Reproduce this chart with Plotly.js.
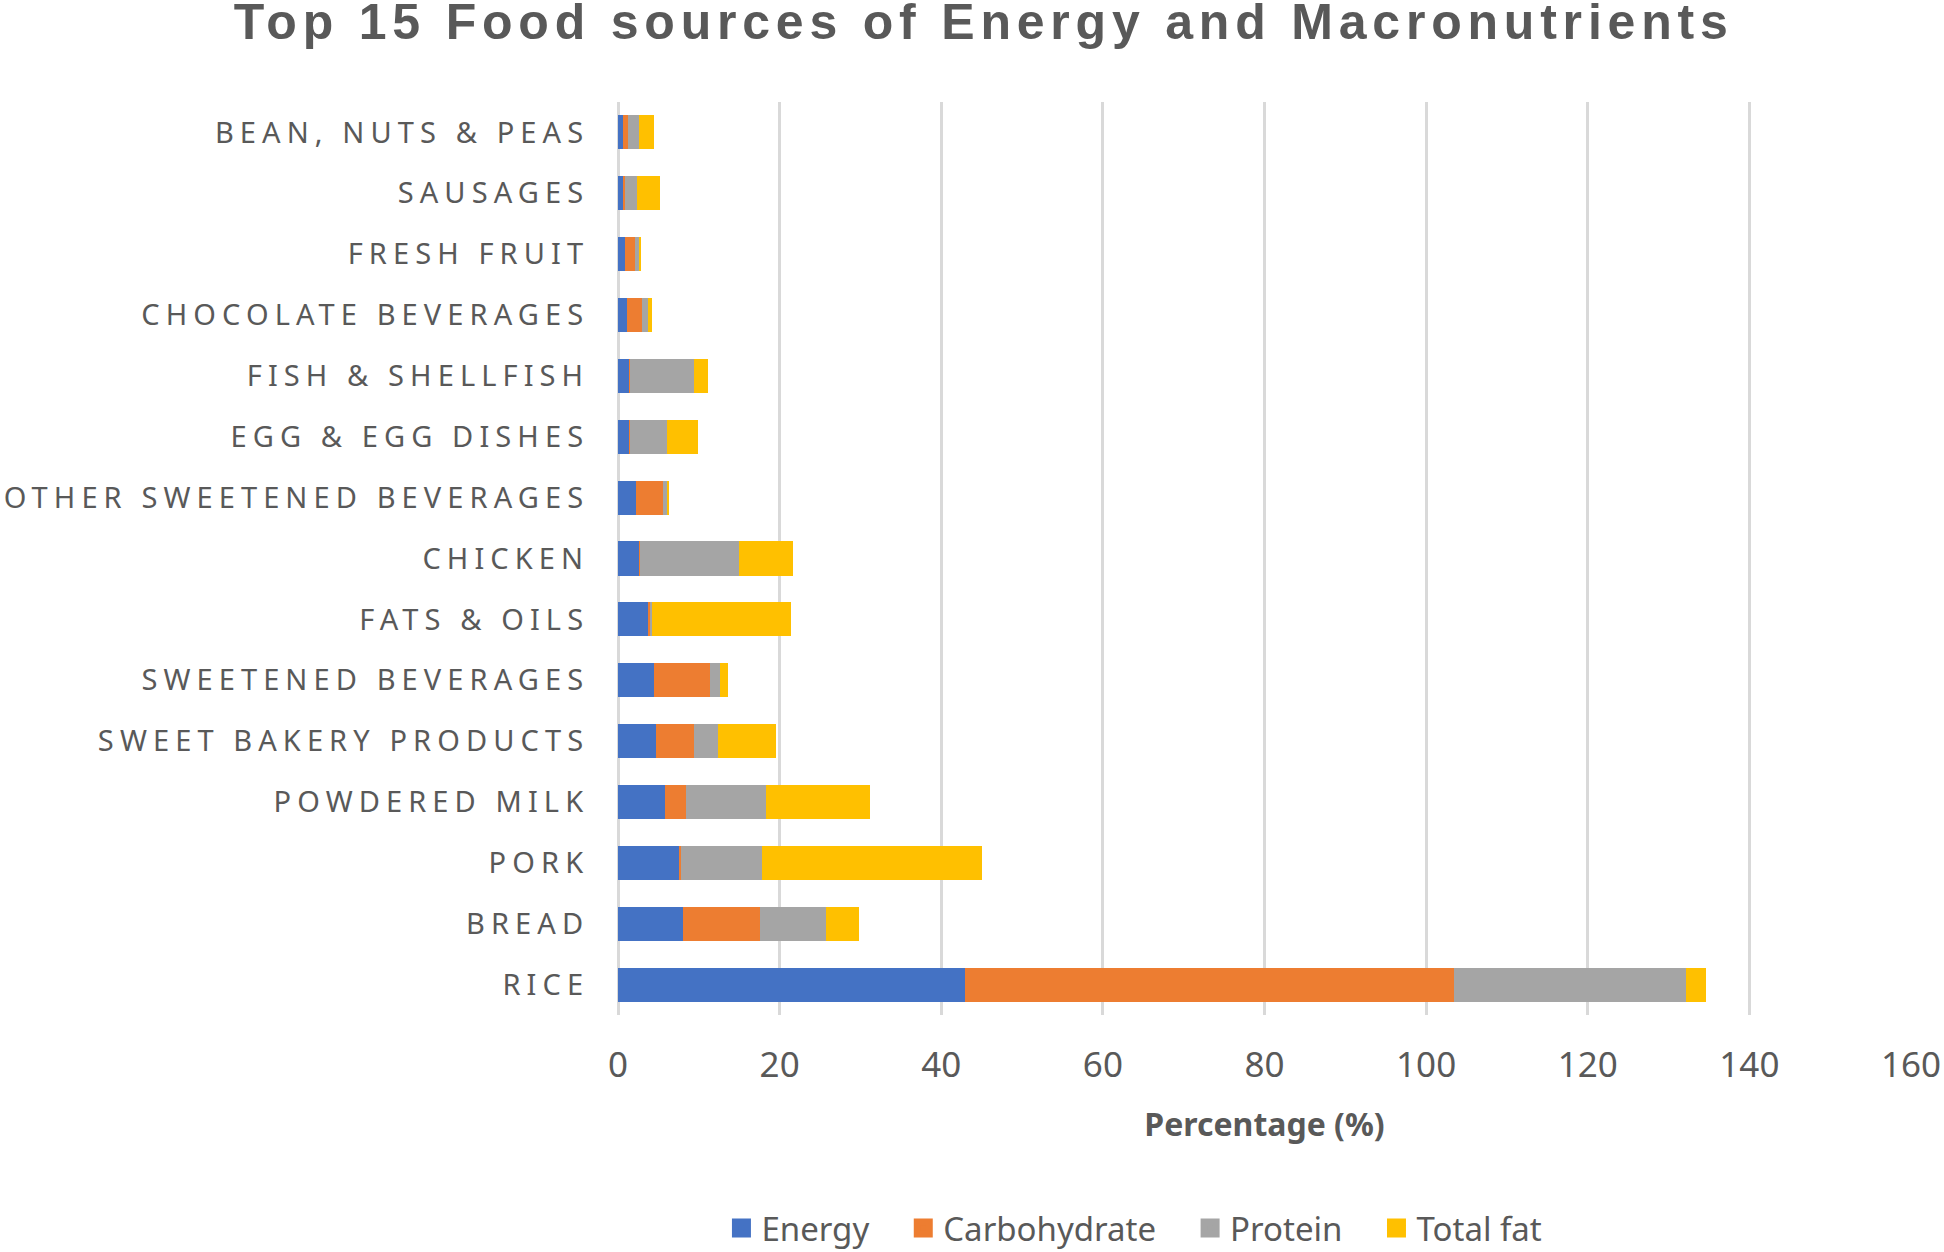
<!DOCTYPE html>
<html>
<head>
<meta charset="utf-8">
<script src="https://cdn.plot.ly/plotly-3.0.1.min.js"></script>
<style>
  html, body { margin: 0; padding: 0; background: #fff; }
  #chart { width: 1944px; height: 1252px; }
  .ytick text { letter-spacing: 6.1px; }
  .gtitle { letter-spacing: 5.8px; }
  .legend g.traces:nth-of-type(1) .legendpoints path { stroke: #4472C4 !important; stroke-width: 7px !important; stroke-linejoin: miter; }
  .legend g.traces:nth-of-type(2) .legendpoints path { stroke: #ED7D31 !important; stroke-width: 7px !important; stroke-linejoin: miter; }
  .legend g.traces:nth-of-type(3) .legendpoints path { stroke: #A5A5A5 !important; stroke-width: 7px !important; stroke-linejoin: miter; }
  .legend g.traces:nth-of-type(4) .legendpoints path { stroke: #FFC000 !important; stroke-width: 7px !important; stroke-linejoin: miter; }
</style>
</head>
<body>
<div id="chart"></div>
<script>
// Categories from bottom (RICE) to top
const categories = [
  "RICE", "BREAD", "PORK", "POWDERED MILK", "SWEET BAKERY PRODUCTS",
  "SWEETENED BEVERAGES", "FATS & OILS", "CHICKEN", "OTHER SWEETENED BEVERAGES",
  "EGG & EGG DISHES", "FISH & SHELLFISH", "CHOCOLATE BEVERAGES",
  "FRESH FRUIT", "SAUSAGES", "BEAN, NUTS & PEAS"
];
const energy       = [43.0, 8.05, 7.6, 5.8, 4.7, 4.4, 3.7, 2.65, 2.2, 1.4, 1.4, 1.15, 0.85, 0.6, 0.6];
const carbohydrate = [60.4, 9.5, 0.25, 2.6, 4.65, 6.95, 0.25, 0.05, 3.35, 0.05, 0.05, 1.8, 1.3, 0.25, 0.6];
const protein      = [28.7, 8.2, 9.95, 9.95, 3.05, 1.3, 0.25, 12.3, 0.5, 4.6, 7.9, 0.75, 0.5, 1.55, 1.45];
const totalFat     = [2.5, 4.05, 27.2, 12.8, 7.15, 1.0, 17.2, 6.7, 0.2, 3.8, 1.8, 0.5, 0.25, 2.8, 1.8];
const seriesNames  = ["Energy", "Carbohydrate", "Protein", "Total fat"];
const seriesColors = ["#4472C4", "#ED7D31", "#A5A5A5", "#FFC000"];
const xTicks = [0, 20, 40, 60, 80, 100, 120, 140, 160];

const seriesValues = [energy, carbohydrate, protein, totalFat];
const pad = "\u00a0\u00a0\u00a0\u200a";
const traces = seriesValues.map((vals, i) => ({
  type: "bar",
  orientation: "h",
  name: seriesNames[i] + pad,
  y: categories,
  x: vals,
  marker: { color: seriesColors[i], line: { width: 0 } },
  hoverinfo: "skip"
}));

const grey = "#595959";
const layout = {
  width: 1944,
  height: 1252,
  paper_bgcolor: "#ffffff",
  plot_bgcolor: "#ffffff",
  barmode: "stack",
  bargap: 0.44,
  margin: { l: 618, r: 33, t: 102, b: 237, pad: 0, autoexpand: false },
  title: {
    text: "<b>Top 15 Food sources of Energy and Macronutrients</b>",
    font: { family: "Liberation Sans, Arial, sans-serif", size: 50, color: grey },
    x: 0.506, xanchor: "center",
    y: 0.9830, yref: "container", yanchor: "middle",
    pad: { t: 0, b: 0 }
  },
  xaxis: {
    range: [0, 160],
    tickvals: xTicks,
    ticktext: xTicks.map(String),
    showgrid: true,
    gridcolor: "#d9d9d9",
    gridwidth: 3,
    zeroline: true,
    zerolinecolor: "#d9d9d9",
    zerolinewidth: 3,
    showline: false,
    ticks: "outside",
    ticklen: 19,
    tickcolor: "rgba(0,0,0,0)",
    tickfont: { family: "Noto Sans, Open Sans, sans-serif", size: 35, color: grey },
    title: {
      text: "<b>Percentage (%)</b>",
      font: { family: "Noto Sans, Open Sans, sans-serif", size: 32, color: grey },
      standoff: 27
    },
    automargin: false,
    fixedrange: true
  },
  yaxis: {
    type: "category",
    categoryorder: "array",
    categoryarray: categories,
    showgrid: false,
    zeroline: false,
    showline: false,
    ticks: "outside",
    ticklen: 22,
    tickcolor: "rgba(0,0,0,0)",
    tickfont: { family: "Noto Sans, Open Sans, sans-serif", size: 29, color: grey },
    automargin: false,
    fixedrange: true
  },
  showlegend: true,
  legend: {
    orientation: "h",
    x: 0.080, xanchor: "left",
    y: 0.0192, yref: "container", yanchor: "middle",
    font: { family: "Noto Sans, Open Sans, sans-serif", size: 33, color: grey },
    traceorder: "normal",
    bgcolor: "rgba(0,0,0,0)"
  }
};

Plotly.newPlot("chart", traces, layout, { staticPlot: true, displayModeBar: false });
</script>
</body>
</html>
